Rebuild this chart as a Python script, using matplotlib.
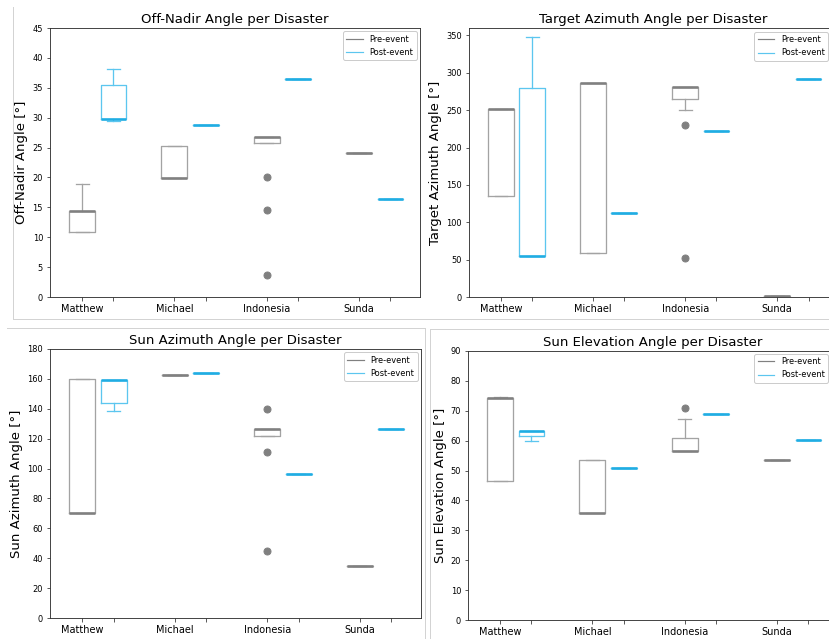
import matplotlib
matplotlib.use("Agg")
import matplotlib.pyplot as plt
from matplotlib.lines import Line2D

W, H, DPI = 829, 639, 72

disasters = ["Matthew", "Michael", "Indonesia", "Sunda"]

# ---- Off-Nadir angle ----
on_pre_q1 = [10.9, 19.9, 25.8, 24.1]
on_pre_med = [14.4, 19.9, 26.7, 24.1]
on_pre_q3 = [14.4, 25.2, 26.7, 24.1]
on_pre_lo = [10.9, 19.9, 25.8, 24.1]
on_pre_hi = [18.9, 25.2, 26.7, 24.1]
on_pre_fl = [[], [], [20.0, 14.6, 3.6], []]
on_post_q1 = [29.8, 28.8, 36.4, 16.4]
on_post_med = [29.8, 28.8, 36.4, 16.4]
on_post_q3 = [35.4, 28.8, 36.4, 16.4]
on_post_lo = [29.5, 28.8, 36.4, 16.4]
on_post_hi = [38.1, 28.8, 36.4, 16.4]
on_post_fl = [[], [], [], []]

# ---- Target azimuth angle ----
ta_pre_q1 = [135.7, 58.5, 265.2, 2.0]
ta_pre_med = [252.0, 286.0, 281.7, 2.0]
ta_pre_q3 = [252.0, 286.0, 281.7, 2.0]
ta_pre_lo = [135.7, 58.5, 250.0, 2.0]
ta_pre_hi = [252.0, 286.0, 281.7, 2.0]
ta_pre_fl = [[], [], [229.9, 52.7], []]
ta_post_q1 = [55.0, 112.5, 222.3, 292.4]
ta_post_med = [55.0, 112.5, 222.3, 292.4]
ta_post_q3 = [279.5, 112.5, 222.3, 292.4]
ta_post_lo = [55.0, 112.5, 222.3, 292.4]
ta_post_hi = [348.0, 112.5, 222.3, 292.4]
ta_post_fl = [[], [], [], []]

# ---- Sun azimuth angle ----
sa_pre_q1 = [70.1, 162.8, 121.7, 35.1]
sa_pre_med = [70.1, 162.8, 126.2, 35.1]
sa_pre_q3 = [160.1, 162.8, 126.2, 35.1]
sa_pre_lo = [70.1, 162.8, 121.7, 35.1]
sa_pre_hi = [160.1, 162.8, 126.2, 35.1]
sa_pre_fl = [[], [], [139.8, 111.4, 45.1], []]
sa_post_q1 = [143.8, 164.1, 96.5, 126.6]
sa_post_med = [159.2, 164.1, 96.5, 126.6]
sa_post_q3 = [159.2, 164.1, 96.5, 126.6]
sa_post_lo = [138.2, 164.1, 96.5, 126.6]
sa_post_hi = [159.2, 164.1, 96.5, 126.6]
sa_post_fl = [[], [], [], []]

# ---- Sun elevation angle ----
se_pre_q1 = [46.6, 35.9, 56.7, 53.5]
se_pre_med = [74.4, 35.9, 56.7, 53.5]
se_pre_q3 = [74.4, 53.6, 61.0, 53.5]
se_pre_lo = [46.6, 35.9, 56.7, 53.5]
se_pre_hi = [74.7, 53.6, 67.4, 53.5]
se_pre_fl = [[], [], [70.9], []]
se_post_q1 = [61.7, 50.9, 69.0, 60.2]
se_post_med = [63.3, 50.9, 69.0, 60.2]
se_post_q3 = [63.3, 50.9, 69.0, 60.2]
se_post_lo = [60.0, 50.9, 69.0, 60.2]
se_post_hi = [63.3, 50.9, 69.0, 60.2]
se_post_fl = [[], [], [], []]

PRE_EDGE = "#a3a3a3"
PRE_MED = "#808080"
POST_EDGE = "#5cc6ef"
POST_MED = "#20ade3"

def stats(q1, med, q3, lo, hi, fl):
    return [dict(q1=a, med=b, q3=c, whislo=d, whishi=e, fliers=f)
            for a, b, c, d, e, f in zip(q1, med, q3, lo, hi, fl)]

fig = plt.figure(figsize=(W / DPI, H / DPI), dpi=DPI)
fig.patch.set_facecolor("white")

def px_axes(l, t, r, b):
    return fig.add_axes([l / W, 1 - b / H, (r - l) / W, (b - t) / H])

def draw(ax, pre, post, title, ylabel, ylim, yticks, legend_anchor=None):
    pos_pre = [1, 2, 3, 4]
    pos_post = [p + 0.34 for p in pos_pre]
    wd = 0.28
    ax.bxp(pre, positions=pos_pre, widths=wd, showfliers=True,
           boxprops=dict(color=PRE_EDGE, lw=1.3),
           whiskerprops=dict(color=PRE_EDGE, lw=1.3),
           capprops=dict(color=PRE_EDGE, lw=1.3),
           medianprops=dict(color=PRE_MED, lw=2.6),
           flierprops=dict(marker="o", markerfacecolor=PRE_MED,
                           markeredgecolor=PRE_MED, markersize=7))
    ax.bxp(post, positions=pos_post, widths=wd, showfliers=True,
           boxprops=dict(color=POST_EDGE, lw=1.3),
           whiskerprops=dict(color=POST_EDGE, lw=1.3),
           capprops=dict(color=POST_EDGE, lw=1.3),
           medianprops=dict(color=POST_MED, lw=2.6),
           flierprops=dict(marker="o", markerfacecolor=POST_MED,
                           markeredgecolor=POST_MED, markersize=7))
    ticks = []
    labels = []
    for a, b, n in zip(pos_pre, pos_post, disasters):
        ticks += [a, b]
        labels += [n, ""]
    ax.set_xticks(ticks)
    ax.set_xticklabels(labels, fontsize=9.8)
    ax.set_xlim(0.653, 4.66)
    ax.set_ylim(*ylim)
    ax.set_yticks(yticks)
    ax.tick_params(axis="y", labelsize=8.2)
    ax.tick_params(axis="both", length=3.5, width=0.8, color="#333333")
    for s in ax.spines.values():
        s.set_color("#333333")
        s.set_linewidth(0.9)
    ax.set_title(title, fontsize=13.3, pad=5)
    ax.set_ylabel(ylabel, fontsize=13.3, labelpad=4)
    handles = [Line2D([], [], color=PRE_MED, lw=1.2),
               Line2D([], [], color=POST_EDGE, lw=1.2)]
    kw = dict(loc="upper right", fontsize=8.3, framealpha=1,
              edgecolor="#cccccc", borderaxespad=0.4)
    if legend_anchor is not None:
        kw.update(bbox_to_anchor=(legend_anchor[0] / W, 1 - legend_anchor[1] / H),
                  bbox_transform=fig.transFigure, borderaxespad=0)
    ax.legend(handles, ["Pre-event", "Post-event"], **kw)

ax1 = px_axes(50, 28, 420, 297)
draw(ax1,
     stats(on_pre_q1, on_pre_med, on_pre_q3, on_pre_lo, on_pre_hi, on_pre_fl),
     stats(on_post_q1, on_post_med, on_post_q3, on_post_lo, on_post_hi, on_post_fl),
     "Off-Nadir Angle per Disaster", "Off-Nadir Angle [°]",
     (0, 45), list(range(0, 46, 5)))

ax2 = px_axes(469, 28, 838, 297)
draw(ax2,
     stats(ta_pre_q1, ta_pre_med, ta_pre_q3, ta_pre_lo, ta_pre_hi, ta_pre_fl),
     stats(ta_post_q1, ta_post_med, ta_post_q3, ta_post_lo, ta_post_hi, ta_post_fl),
     "Target Azimuth Angle per Disaster", "Target Azimuth Angle [°]",
     (0, 360), list(range(0, 351, 50)), legend_anchor=(828, 32))

ax3 = px_axes(50, 349, 421, 618)
draw(ax3,
     stats(sa_pre_q1, sa_pre_med, sa_pre_q3, sa_pre_lo, sa_pre_hi, sa_pre_fl),
     stats(sa_post_q1, sa_post_med, sa_post_q3, sa_post_lo, sa_post_hi, sa_post_fl),
     "Sun Azimuth Angle per Disaster", "Sun Azimuth Angle [°]",
     (0, 180), list(range(0, 181, 20)))

ax4 = px_axes(468, 351, 838, 620)
draw(ax4,
     stats(se_pre_q1, se_pre_med, se_pre_q3, se_pre_lo, se_pre_hi, se_pre_fl),
     stats(se_post_q1, se_post_med, se_post_q3, se_post_lo, se_post_hi, se_post_fl),
     "Sun Elevation Angle per Disaster", "Sun Elevation Angle [°]",
     (0, 90), list(range(0, 91, 10)), legend_anchor=(828, 354))

# panel separator lines (pixel coordinates of the screenshot collage)
SEP = "#d3d3d3"
def sep(x0, y0, x1, y1):
    fig.add_artist(Line2D([x0 / W, x1 / W], [1 - y0 / H, 1 - y1 / H],
                          transform=fig.transFigure, color=SEP, lw=1))

sep(13, 7, 13, 319)
sep(13, 319, 829, 319)
sep(7, 328, 425, 328)
sep(425, 328, 425, 639)
sep(430, 329, 829, 329)
sep(430, 329, 430, 639)

fig.savefig("out.png", dpi=DPI)
